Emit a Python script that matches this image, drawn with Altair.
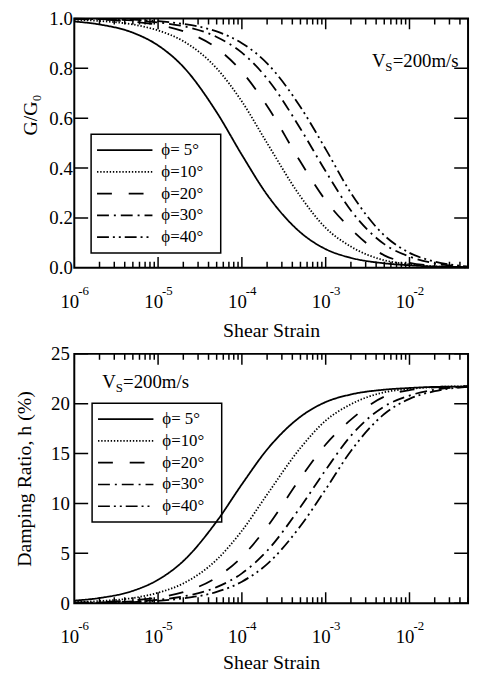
import altair as alt
import pandas as pd

# ---------------- data ----------------
strain = [1e-6, 2e-6, 5e-6, 1e-5, 2e-5, 5e-5, 1e-4, 2e-4, 5e-4,
          1e-3, 2e-3, 5e-3, 1e-2, 2e-2, 5e-2]
phi_labels = ["ϕ= 5°", "ϕ=10°", "ϕ=20°", "ϕ=30°", "ϕ=40°"]

g_5 = [0.988, 0.976, 0.943, 0.892, 0.806, 0.624, 0.453, 0.293, 0.142,
       0.075, 0.040, 0.018, 0.010, 0.005, 0.003]
g_10 = [0.995, 0.990, 0.976, 0.952, 0.909, 0.800, 0.667, 0.500, 0.286,
        0.160, 0.085, 0.030, 0.014, 0.006, 0.002]
g_20 = [0.997, 0.995, 0.987, 0.974, 0.949, 0.881, 0.787, 0.649, 0.425,
        0.270, 0.156, 0.050, 0.020, 0.008, 0.002]
g_30 = [0.998, 0.997, 0.992, 0.984, 0.969, 0.926, 0.863, 0.759, 0.558,
        0.387, 0.230, 0.095, 0.045, 0.018, 0.004]
g_40 = [0.999, 0.998, 0.995, 0.989, 0.978, 0.948, 0.901, 0.820, 0.645,
        0.476, 0.300, 0.130, 0.060, 0.025, 0.005]

h_5 = [0.26, 0.52, 1.24, 2.35, 4.23, 8.20, 11.92, 15.41, 18.70,
       20.17, 20.93, 21.41, 21.58, 21.69, 21.73]
h_10 = [0.11, 0.22, 0.52, 1.05, 1.98, 4.36, 7.26, 10.90, 15.57,
        18.31, 19.95, 21.15, 21.49, 21.67, 21.76]
h_20 = [0.07, 0.11, 0.28, 0.57, 1.11, 2.59, 4.64, 7.65, 12.54,
        15.91, 18.40, 20.71, 21.36, 21.63, 21.76]
h_30 = [0.04, 0.07, 0.17, 0.35, 0.68, 1.61, 2.99, 5.25, 9.64,
        13.36, 16.79, 19.73, 20.82, 21.41, 21.71]
h_40 = [0.02, 0.04, 0.11, 0.24, 0.48, 1.13, 2.16, 3.92, 7.74,
        11.42, 15.26, 18.97, 20.49, 21.26, 21.69]

x_domain = [1e-6, 5e-2]
decades = [1e-6, 1e-5, 1e-4, 1e-3, 1e-2]
exponents = ["-6", "-5", "-4", "-3", "-2"]
minor_ticks = [m * d for d in decades for m in range(2, 10)
               if m * d <= 0.0500001]
g_ticks = [0.0, 0.2, 0.4, 0.6, 0.8, 1.0]
h_ticks = [0, 5, 10, 15, 20, 25]
annotation_text = ["V", "S", "=200m/s"]
ann_top = (3.56e-3, 0.806)
ann_bottom = (2.16e-6, 21.6)


def long_df(series):
    rows = []
    for lab, vals in zip(phi_labels, series):
        for s, v in zip(strain, vals):
            rows.append({"strain": s, "value": v, "phi": lab})
    return pd.DataFrame(rows)


df_g = long_df([g_5, g_10, g_20, g_30, g_40])
df_h = long_df([h_5, h_10, h_20, h_30, h_40])
df_exp = pd.DataFrame({"decade": decades, "exp": exponents})

# ---------------- styling ----------------
FONT = "Liberation Serif"
LEG_FONT = "Liberation Serif, DejaVu Serif"
DASHES = [[1, 0], [1.4, 1.8], [15, 17], [12, 5, 2, 5], [12, 4, 2, 4, 2, 4]]
W, H = 398, 252


def panel(df, ytitle, ydomain, yticks, yfmt, ylabpad, ytitle_opts,
          xtitlepad, leg_x, leg_y, ann):
    xs = alt.Scale(type="log", domain=x_domain, nice=False)
    ys = alt.Scale(domain=ydomain, nice=False, zero=False)

    x_axis = alt.Axis(orient="bottom", values=decades, ticks=False,
                      tickSize=0, domain=False,
                      labelExpr="'10'", labelPadding=40,
                      labelBaseline="alphabetic", labelOffset=-5,
                      labelFlush=False, labelOverlap=False,
                      labelFontSize=19, title="Shear Strain",
                      titlePadding=xtitlepad, titleFontSize=20)
    y_axis = alt.Axis(orient="left", values=yticks, format=yfmt,
                      ticks=False, tickSize=0, domain=False,
                      labelPadding=ylabpad, labelFontSize=19,
                      title=ytitle, titleFontSize=20, **ytitle_opts)

    legend = alt.Legend(title="n", titleOrient="right", titleColor="white",
                        titleFontSize=16, titlePadding=3,
                        orient="none", legendX=leg_x,
                        legendY=leg_y, symbolType="stroke",
                        symbolSize=3136, clipHeight=22, rowPadding=0,
                        labelOffset=8, labelFont=LEG_FONT, labelFontSize=17,
                        labelColor="black",
                        symbolStrokeWidth=1.7, symbolStrokeColor="black",
                        strokeColor="black", padding=5)

    lines = alt.Chart(df).mark_line(
        color="black", strokeWidth=1.8, interpolate="monotone"
    ).encode(
        x=alt.X("strain:Q", scale=xs, axis=x_axis),
        y=alt.Y("value:Q", scale=ys, axis=y_axis),
        strokeDash=alt.StrokeDash("phi:N", scale=alt.Scale(
            domain=phi_labels, range=DASHES), legend=legend),
    )

    # inward ticks on all four sides (clipped half of a centred tick)
    def xticks(values, size):
        d = pd.DataFrame([{"t": v, "edge": e} for v in values
                          for e in ydomain])
        return alt.Chart(d).mark_tick(
            orient="vertical", size=size, thickness=1.5, color="black",
            clip=True, opacity=1
        ).encode(x=alt.X("t:Q", scale=xs), y=alt.Y("edge:Q", scale=ys))

    d_y = pd.DataFrame([{"t": v, "edge": e} for v in yticks
                        for e in x_domain])
    yt = alt.Chart(d_y).mark_tick(
        orient="horizontal", size=28, thickness=1.5, color="black",
        clip=True, opacity=1
    ).encode(x=alt.X("edge:Q", scale=xs), y=alt.Y("t:Q", scale=ys))

    exps = alt.Chart(df_exp).mark_text(
        align="left", baseline="alphabetic", dx=4, dy=27, fontSize=13,
        font=FONT, color="black"
    ).encode(
        x=alt.X("decade:Q", scale=xs),
        y=alt.Y(datum=ydomain[0], scale=ys),
        text="exp:N",
    )
    ann_df = pd.DataFrame({"x": [ann[0]], "y": [ann[1]]})
    enc = dict(x=alt.X("x:Q", scale=xs), y=alt.Y("y:Q", scale=ys))
    t_v = alt.Chart(ann_df).mark_text(
        text=annotation_text[0], align="left", baseline="alphabetic",
        font=FONT, fontSize=19, color="black").encode(**enc)
    t_s = alt.Chart(ann_df).mark_text(
        text=annotation_text[1], align="left", baseline="alphabetic",
        dx=13.5, dy=4, font=FONT, fontSize=13, color="black").encode(**enc)
    t_r = alt.Chart(ann_df).mark_text(
        text=annotation_text[2], align="left", baseline="alphabetic",
        dx=21, font=FONT, fontSize=19, color="black").encode(**enc)

    return alt.layer(lines, xticks(decades, 22), xticks(minor_ticks, 12),
                     yt, exps, t_v, t_s, t_r).properties(width=W, height=H)


top = panel(df_g, "G/G₀", [0, 1], g_ticks, ".1f", 2,
            dict(titleX=-44, titleY=97, titleBaseline="middle",
                 titleAlign="center"),
            9, 17, 117, ann_top)
bottom = panel(df_h, "Damping Ratio, h (%)", [0, 25], h_ticks, "d", 5,
               dict(titlePadding=16),
               6, 18, 50, ann_bottom)

chart = alt.vconcat(top, bottom, spacing=3).resolve_scale(
    strokeDash="independent"
).properties(
    padding={"left": 6, "top": -3, "right": 0, "bottom": 0}
).configure_view(
    stroke="black", strokeWidth=2
).configure_axis(
    grid=False, labelColor="black", titleColor="black",
    labelFont=FONT, titleFont=FONT, titleFontWeight="normal"
).configure_legend(
    strokeWidth=1.5
)

chart.save("out.html", embed_options={"renderer": "svg", "actions": False})
